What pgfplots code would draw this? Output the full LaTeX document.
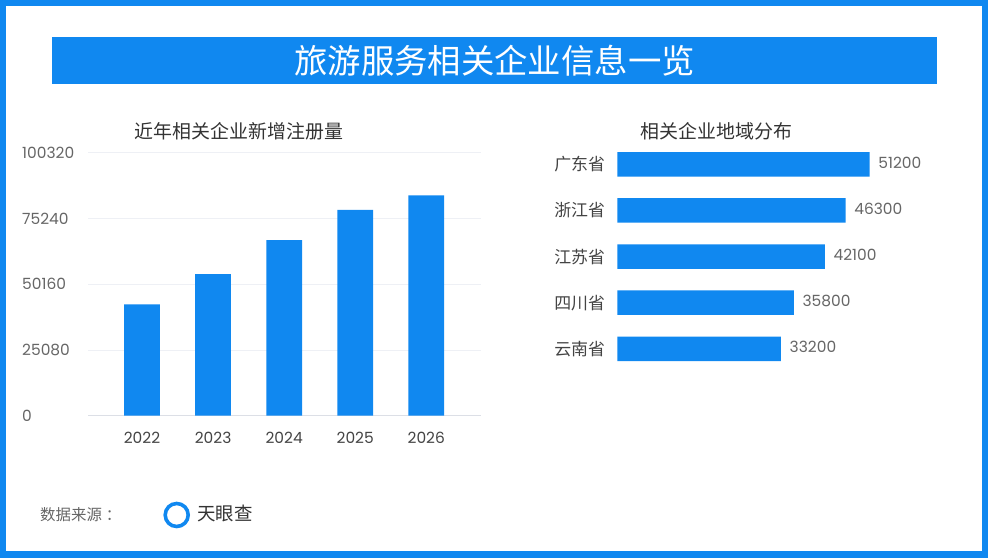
\documentclass[border=0pt]{standalone}
\usepackage{pgfplots}
\pgfplotsset{compat=1.18}
\usepackage{fontspec}
\setmainfont{Noto Sans CJK SC}
\newfontfamily\numfont{Poppins}
\definecolor{tyblue}{RGB}{16,136,240}
\definecolor{txtdark}{RGB}{51,51,51}
\definecolor{txtmid}{RGB}{68,68,68}
\definecolor{txtlight}{RGB}{102,102,102}
\definecolor{gridgray}{RGB}{238,240,245}
\definecolor{axisgray}{RGB}{220,223,230}
\begin{document}
\begin{tikzpicture}[x=1bp,y=1bp]
\fill[tyblue] (0,0) rectangle (988,558);
\fill[white] (6,7) rectangle (982,552);
\fill[tyblue] (52,474) rectangle (937,521);
\node[text=white,font=\fontsize{33.5}{38}\selectfont] at (494.5,497.5) {旅游服务相关企业信息一览};
\node[text=txtdark,font=\fontsize{19}{22}\selectfont] at (239,427) {近年相关企业新增注册量};
\node[text=txtdark,font=\fontsize{19}{22}\selectfont] at (716.5,427) {相关企业地域分布};

\begin{axis}[at={(88bp,142.3bp)}, anchor=south west, scale only axis,
  width=393bp, height=263bp,
  ymin=0, ymax=100320, xmin=-0.76, xmax=4.77,
  ybar, bar width=35.7bp,
  axis x line*=bottom, axis y line*=left,
  x axis line style={draw=axisgray, line width=1pt, -},
  y axis line style={draw=none},
  ymajorgrids, grid style={draw=gridgray, line width=0.8pt},
  major tick length=0,
  scaled y ticks=false,
  ytick={0,25080,50160,75240,100320},
  yticklabels={0,25080,50160,75240,100320},
  xtick={0,1,2,3,4},
  xticklabels={2022,2023,2024,2025,2026},
  yticklabel style={anchor=west, inner sep=0pt, xshift=-66bp, text=txtlight, font=\numfont\fontsize{15.5}{18}\selectfont},
  xticklabel style={text=txtmid, font=\numfont\fontsize{15.5}{18}\selectfont, yshift=-13bp},
  clip=false,
]
\addplot[fill=tyblue, draw=none] coordinates {(0,42500) (1,54000) (2,67000) (3,78500) (4,84000)};
\end{axis}

\begin{axis}[at={(617.3bp,186.15bp)}, anchor=south west, scale only axis,
  width=300bp, height=230.5bp,
  xmin=0, xmax=60870, ymin=-0.5, ymax=4.5,
  xbar, bar width=24.5bp,
  axis line style={draw=none},
  major tick length=0,
  xtick=\empty,
  ytick={0,1,2,3,4},
  yticklabels={云南省,四川省,江苏省,浙江省,广东省},
  yticklabel style={anchor=east, inner sep=0pt, xshift=-12bp, text=txtmid, font=\fontsize{17}{20}\selectfont},
  nodes near coords, point meta=explicit symbolic,
  nodes near coords style={anchor=west, inner sep=0pt, xshift=8.6bp, yshift=2bp, text=txtlight, font=\numfont\fontsize{15.5}{18}\selectfont},
  clip=false,
]
\addplot[fill=tyblue, draw=none] coordinates {(33200,0) [33200] (35800,1) [35800] (42100,2) [42100] (46300,3) [46300] (51200,4) [51200]};
\end{axis}

\node[anchor=west, text=txtlight, font=\fontsize{15.5}{18}\selectfont, inner sep=0pt] at (40,43) {数据来源\hspace{4bp}：};
\draw[tyblue, line width=3.6bp] (176.7,43) circle (11.5);
\node[anchor=west, text=txtdark, font=\fontsize{18.5}{21}\selectfont, inner sep=0pt] at (197,44) {天眼查};
\end{tikzpicture}
\end{document}
